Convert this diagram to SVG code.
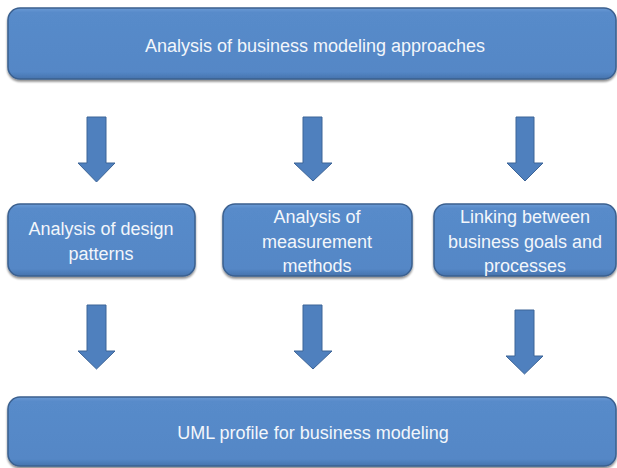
<svg xmlns="http://www.w3.org/2000/svg" width="617" height="468" viewBox="0 0 617 468">
  <defs>
    <linearGradient id="boxFill" x1="0" y1="0" x2="0" y2="1">
      <stop offset="0" stop-color="#6C9BD6"/>
      <stop offset="0.06" stop-color="#588BCA"/>
      <stop offset="0.9" stop-color="#5487C6"/>
      <stop offset="1" stop-color="#4673AD"/>
    </linearGradient>
    <filter id="shadow" x="-5%" y="-10%" width="110%" height="125%">
      <feGaussianBlur in="SourceAlpha" stdDeviation="1.2"/>
      <feOffset dx="0" dy="1.5" result="b"/>
      <feComponentTransfer><feFuncA type="linear" slope="0.45"/></feComponentTransfer>
      <feMerge><feMergeNode/><feMergeNode in="SourceGraphic"/></feMerge>
    </filter>
  </defs>
  <style>
    .box { fill: url(#boxFill); stroke: #3B608F; stroke-width: 1.5; filter: url(#shadow); }
    .label { font-family: "Liberation Sans", Arial, sans-serif; font-size: 18px; fill: #F2F6FB; text-anchor: middle; }
    .arrow { fill: #4F80BE; stroke: #3C6497; stroke-width: 1; }
  </style>

  <g id="approaches">
    <rect class="box" x="8" y="8" width="608" height="71" rx="12"/>
    <text class="label" x="315" y="52">Analysis of business modeling approaches</text>
  </g>

  <g id="design-patterns">
    <rect class="box" x="8" y="204" width="187" height="72" rx="12"/>
    <text class="label" x="101" y="235">Analysis of design</text>
    <text class="label" x="101" y="260">patterns</text>
  </g>

  <g id="measurement-methods">
    <rect class="box" x="223" y="204" width="189" height="72" rx="12"/>
    <text class="label" x="317" y="223">Analysis of</text>
    <text class="label" x="317" y="248">measurement</text>
    <text class="label" x="317" y="272">methods</text>
  </g>

  <g id="goals-processes">
    <rect class="box" x="434" y="204" width="182" height="72" rx="12"/>
    <text class="label" x="525" y="223">Linking between</text>
    <text class="label" x="525" y="248">business goals and</text>
    <text class="label" x="525" y="272">processes</text>
  </g>

  <g id="uml-profile">
    <rect class="box" x="8" y="397" width="608" height="69" rx="12"/>
    <text class="label" x="313" y="439">UML profile for business modeling</text>
  </g>

  <g id="connectors">
    <!-- block arrows between rows -->
    <path class="arrow" d="M87,117 H106 V163 H115 L96.5,182 L78,163 H87 Z"/>
    <path class="arrow" d="M303,117 H322 V163 H332 L313,181 L294,163 H303 Z"/>
    <path class="arrow" d="M516,117 H534 V163 H543 L525,181 L507,163 H516 Z"/>
    <path class="arrow" d="M87,305 H106 V351 H115 L96.5,369 L78,351 H87 Z"/>
    <path class="arrow" d="M303,305 H322 V351 H332 L313,369 L294,351 H303 Z"/>
    <path class="arrow" d="M515,310 H534 V356 H543 L524.5,374 L506,356 H515 Z"/>
  </g>
</svg>
